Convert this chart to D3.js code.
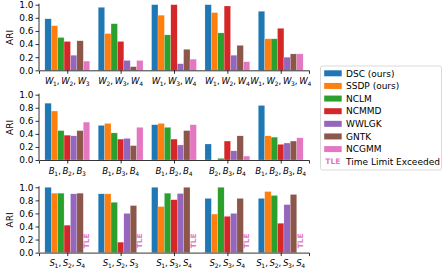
<!DOCTYPE html>
<html lang="en">
<head>
<meta charset="UTF-8">
<title>ARI</title>
<script src="https://cdn.jsdelivr.net/npm/d3@7"></script>
<style>
  body { margin: 0; background: #fff; }
  text { font-family: "DejaVu Sans", sans-serif; }
</style>
</head>
<body>
<div id="chart"></div>
<script>
const methods = ["DSC (ours)", "SSDP (ours)", "NCLM", "NCMMD", "WWLGK", "GNTK", "NCGMM"]
const colors = ["#1f77b4", "#ff7f0e", "#2ca02c", "#d62728", "#9467bd", "#8c564b", "#e377c2"]
const yTicks = [0, 0.2, 0.4, 0.6, 0.8, 1.0]

// group labels: letter + subscripts
const wGroups = [[1, 2, 3], [2, 3, 4], [1, 3, 4], [1, 2, 4], [1, 2, 3, 4]]
const bGroups = [[1, 2, 3], [1, 3, 4], [1, 2, 4], [2, 3, 4], [1, 2, 3, 4]]
const sGroups = [[1, 2, 4], [1, 2, 3], [1, 3, 4], [2, 3, 4], [1, 2, 3, 4]]

// one row per group, one value per method (null = time limit exceeded)
const wValues = [
  [0.785, 0.68, 0.50, 0.44, 0.23, 0.45, 0.14],
  [0.96, 0.56, 0.71, 0.44, 0.15, 0.055, 0.15],
  [1.0, 0.84, 0.54, 1.0, 0.10, 0.32, 0.17],
  [1.0, 0.88, 0.57, 0.98, 0.23, 0.38, 0.13],
  [0.90, 0.48, 0.48, 0.64, 0.20, 0.25, 0.25]
]
const bValues = [
  [0.87, 0.75, 0.45, 0.38, 0.37, 0.45, 0.58],
  [0.53, 0.56, 0.415, 0.32, 0.33, 0.22, 0.50],
  [0.54, 0.56, 0.50, 0.32, 0.23, 0.45, 0.54],
  [0.245, 0, 0.025, 0.29, 0.14, 0.37, 0.06],
  [0.835, 0.37, 0.35, 0.24, 0.26, 0.29, 0.34]
]
const sValues = [
  [1.0, 0.91, 0.91, 0.42, 0.90, 0.91, null],
  [0.90, 0.90, 0.77, 0.16, 0.60, 0.72, null],
  [1.0, 0.705, 0.91, 0.81, 0.905, 1.0, null],
  [0.83, 0.59, 1.0, 0.555, 0.60, 0.83, null],
  [0.83, 0.935, 0.875, 0.45, 0.735, 0.89, null]
]

const width = 446
const height = 275
const svg = d3.select('#chart').append('svg')
  .attr('width', width)
  .attr('height', height)

const panels = [
  { letter: 'W', groups: wGroups, values: wValues, top: 4.7, bottom: 70.3 },
  { letter: 'B', groups: bGroups, values: bValues, top: 94.7, bottom: 160 },
  { letter: 'S', groups: sGroups, values: sValues, top: 187.3, bottom: 252.6 }
]

const left = 39
const right = 309
const barW = 0.12
const xScale = d3.scaleLinear().domain([-0.53, 4.53]).range([left, right])

panels.forEach(p => {
  const yScale = d3.scaleLinear().domain([0, 1]).range([p.bottom, p.top])
  const g = svg.append('g')

  // bars
  p.values.forEach((row, gi) => {
    row.forEach((v, mi) => {
      const x0 = xScale(gi + (mi - 3.5) * barW)
      const x1 = xScale(gi + (mi - 2.5) * barW)
      if (v === null) {
        const cx = (x0 + x1) / 2
        const cy = yScale(0.18)
        g.append('text')
          .attr('transform', `translate(${cx + 2.6},${cy}) rotate(-90)`)
          .attr('text-anchor', 'middle')
          .attr('font-size', 7.5)
          .attr('font-weight', 'bold')
          .attr('fill', colors[mi])
          .text('TLE')
        return
      }
      g.append('rect')
        .attr('x', x0)
        .attr('width', x1 - x0)
        .attr('y', yScale(v))
        .attr('height', yScale(0) - yScale(v))
        .attr('fill', colors[mi])
        .attr('stroke', '#fff')
        .attr('stroke-opacity', 0.5)
        .attr('stroke-width', 0.4)
    })
  })

  // y axis
  const yAxis = d3.axisLeft(yScale).tickValues(yTicks).tickFormat(d3.format('.1f')).tickSizeOuter(0).tickSize(3.5)
  const gy = g.append('g').attr('transform', `translate(${left},0)`).call(yAxis)
  gy.select('.domain').attr('d', `M0,${p.bottom}V${p.top - 1}`)

  // x axis
  const xAxis = d3.axisBottom(xScale).tickValues(d3.range(5)).tickFormat('').tickSizeOuter(0).tickSize(3.5)
  g.append('g').attr('transform', `translate(0,${p.bottom})`).call(xAxis)

  svg.selectAll('.domain, .tick line').attr('stroke', '#000').attr('stroke-width', 0.8)
  gy.selectAll('.tick text').attr('font-size', 9).attr('fill', '#000').attr('x', -5.5).attr('font-family', 'DejaVu Sans')

  // x tick labels with italic letters and subscripts
  p.groups.forEach((grp, gi) => {
    const t = g.append('text')
      .attr('x', xScale(gi))
      .attr('y', p.bottom + 13.5)
      .attr('text-anchor', 'middle')
      .attr('font-size', 8.6)
    grp.forEach((n, k) => {
      if (k > 0) t.append('tspan').attr('dy', -2).text(',\u2009')
      t.append('tspan').attr('font-style', 'italic').attr('dy', 0).text(p.letter)
      t.append('tspan').attr('font-size', 6).attr('dy', 2).attr('dx', -0.4).text(n)
    })
  })

  // y label
  g.append('text')
    .attr('transform', `translate(13,${(p.top + p.bottom) / 2}) rotate(-90)`)
    .attr('text-anchor', 'middle')
    .attr('font-size', 9)
    .text('ARI')
})

// legend
const legend = svg.append('g').attr('transform', 'translate(320.5,66)')
legend.append('rect')
  .attr('width', 121).attr('height', 104)
  .attr('rx', 2)
  .attr('fill', '#fff')
  .attr('stroke', '#d0d0d0')
  .attr('stroke-width', 0.8)
const entries = methods.map((m, i) => ({ label: m, color: colors[i] }))
entries.push({ label: 'Time Limit Exceeded', color: colors[6], tle: true })
entries.forEach((e, i) => {
  const cy = 7.3 + i * 12.63
  if (e.tle) {
    legend.append('text')
      .attr('x', 12.3).attr('y', cy + 2.7)
      .attr('text-anchor', 'middle')
      .attr('font-size', 7.5)
      .attr('font-weight', 'bold')
      .attr('fill', e.color)
      .text('TLE')
  } else {
    legend.append('rect')
      .attr('x', 3.7).attr('y', cy - 3)
      .attr('width', 17.5).attr('height', 6)
      .attr('fill', e.color)
  }
  legend.append('text')
    .attr('x', 25.5).attr('y', cy + 3.2)
    .attr('font-size', 9)
    .text(e.label)
})
</script>
</body>
</html>
